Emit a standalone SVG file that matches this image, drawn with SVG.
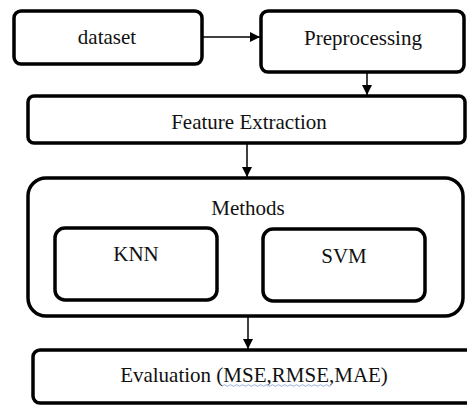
<svg xmlns="http://www.w3.org/2000/svg" width="467" height="405" viewBox="0 0 467 405">
<defs>
<style>
.box{fill:#fff;stroke:#000;stroke-width:3.5}
.lbl{font-family:"Liberation Serif","Times New Roman",serif;font-size:21px;fill:#111;text-anchor:middle}
.conn{stroke:#000;stroke-width:1.5;fill:none}
</style>
<marker id="ah" viewBox="0 0 10 10" refX="10" refY="5" markerWidth="10" markerHeight="11" markerUnits="userSpaceOnUse" orient="auto">
<path d="M0,0 L10,5 L0,10 Z" fill="#000"/>
</marker>
</defs>
<rect width="467" height="405" fill="#fff"/>
<g id="dataset">
<rect class="box" x="14" y="11" width="188" height="53" rx="7"/>
<text class="lbl" x="107" y="44">dataset</text>
</g>
<g id="preprocessing">
<rect class="box" x="261" y="11" width="203" height="61" rx="7"/>
<text class="lbl" x="363" y="45">Preprocessing</text>
</g>
<g id="feature-extraction">
<rect class="box" x="28" y="96" width="437" height="47" rx="6"/>
<text class="lbl" x="249" y="129">Feature Extraction</text>
</g>
<g id="methods">
<rect class="box" x="28" y="178" width="435" height="138" rx="18"/>
<text class="lbl" x="248" y="215">Methods</text>
</g>
<g id="knn">
<rect class="box" x="55" y="228" width="162" height="72" rx="10"/>
<text class="lbl" x="136" y="261">KNN</text>
</g>
<g id="svm">
<rect class="box" x="263" y="229" width="162" height="72" rx="10"/>
<text class="lbl" x="344" y="263">SVM</text>
</g>
<g id="evaluation">
<rect class="box" x="33" y="350" width="445" height="53" rx="7"/>
<text class="lbl" x="254" y="382">Evaluation (MSE,RMSE,MAE)</text>
<path d="M223,385.5 q1.5,-1.5 3,0 t3,0 t3,0 t3,0 t3,0 t3,0 t3,0 t3,0 t3,0 t3,0 t3,0 t3,0 t3,0 t3,0 t3,0 t3,0 t3,0 t3,0 t3,0 t3,0 t3,0 t3,0 t3,0 t3,0 t3,0 t3,0 t3,0 t3,0 t3,0 t3,0 t3,0 t3,0 t3,0 t3,0 t3,0 t3,0" fill="none" stroke="#7a9ae0" stroke-width="0.8"/>
</g>
<g id="connectors">
<line class="conn" x1="202" y1="37" x2="260" y2="37" marker-end="url(#ah)"/>
<line class="conn" x1="367" y1="73" x2="367" y2="95" marker-end="url(#ah)"/>
<line class="conn" x1="247" y1="144" x2="247" y2="177" marker-end="url(#ah)"/>
<line class="conn" x1="248" y1="317" x2="248" y2="349" marker-end="url(#ah)"/>
</g>
</svg>
